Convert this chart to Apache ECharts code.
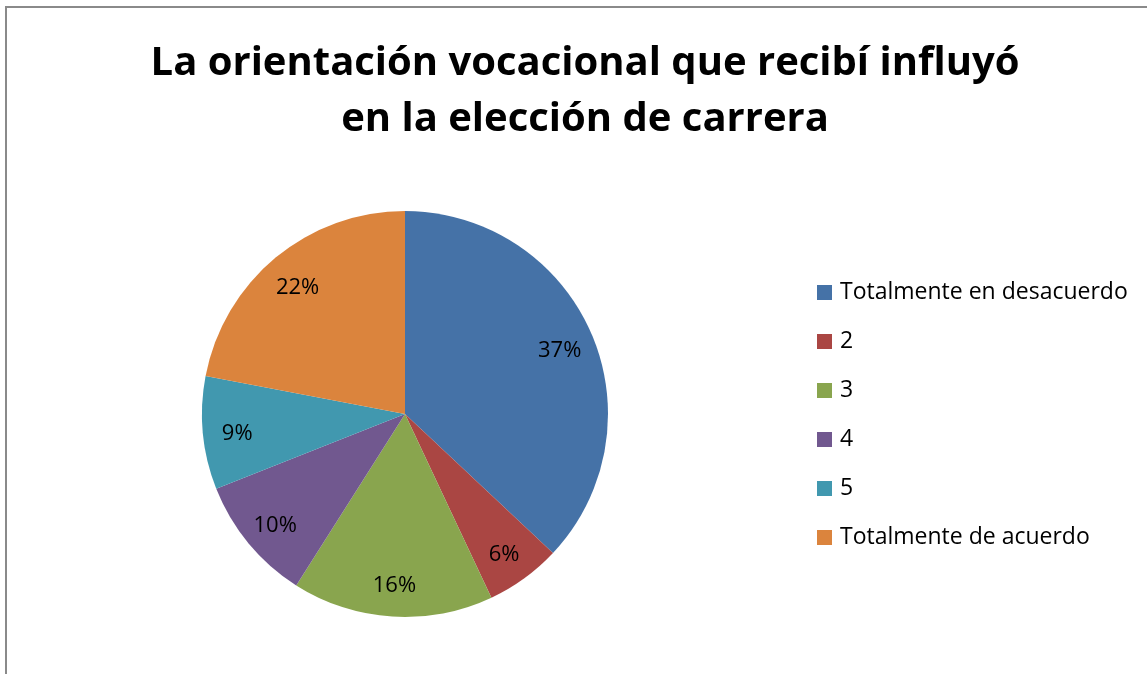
<!DOCTYPE html>
<html>
<head>
<meta charset="utf-8">
<script src="https://cdn.jsdelivr.net/npm/echarts@6/dist/echarts.min.js"></script>
<style>
  html, body { margin: 0; padding: 0; background: #fff; }
  #main { width: 1147px; height: 674px; }
  .frame { position: absolute; left: 5px; top: 6px; width: 1200px; height: 700px;
           border-left: 2px solid #8a8a8a; border-top: 2px solid #8a8a8a; pointer-events: none; }
</style>
</head>
<body>
<div id="main"></div>
<div class="frame"></div>
<script>
  var categories = ['Totalmente en desacuerdo', '2', '3', '4', '5', 'Totalmente de acuerdo'];
  var percentages = [37, 6, 16, 10, 9, 22];
  var colors = ['#4572A7', '#AA4643', '#89A54E', '#71588F', '#4198AF', '#DB843D'];

  var pieData = categories.map(function (name, i) {
    return { name: name, value: percentages[i] };
  });

  var myChart = echarts.init(document.getElementById('main'));
  var font = '"Open Sans", sans-serif';

  var option = {
    color: colors,
    animation: false,
    title: {
      text: 'La orientación vocacional que recibí influyó\nen la elección de carrera',
      left: 580,
      top: 31,
      textAlign: 'center',
      textStyle: {
        fontFamily: font,
        fontSize: 40,
        fontWeight: 'bold',
        color: '#000',
        lineHeight: 56
      }
    },
    legend: {
      orient: 'vertical',
      left: 817,
      top: 281,
      padding: 0,
      icon: 'rect',
      itemWidth: 15,
      itemHeight: 15,
      itemGap: 26,
      textStyle: { fontFamily: font, fontSize: 23, color: '#000', padding: [0, 0, 0, 3] },
      data: categories
    },
    series: [
      {
        // the pie itself
        type: 'pie',
        center: [405, 414],
        radius: [0, 203],
        startAngle: 90,
        clockwise: true,
        silent: true,
        label: { show: false },
        labelLine: { show: false },
        data: pieData
      },
      {
        // transparent ring only used to place the labels near the rim
        type: 'pie',
        center: [405, 414],
        radius: [128, 203],
        startAngle: 90,
        clockwise: true,
        silent: true,
        itemStyle: { color: 'rgba(0,0,0,0)' },
        label: {
          show: true,
          position: 'inside',
          formatter: '{c}%',
          offset: [0, 4],
          fontFamily: font,
          fontSize: 22,
          color: '#000'
        },
        labelLine: { show: false },
        data: pieData
      }
    ]
  };
  myChart.setOption(option);
</script>
</body>
</html>
